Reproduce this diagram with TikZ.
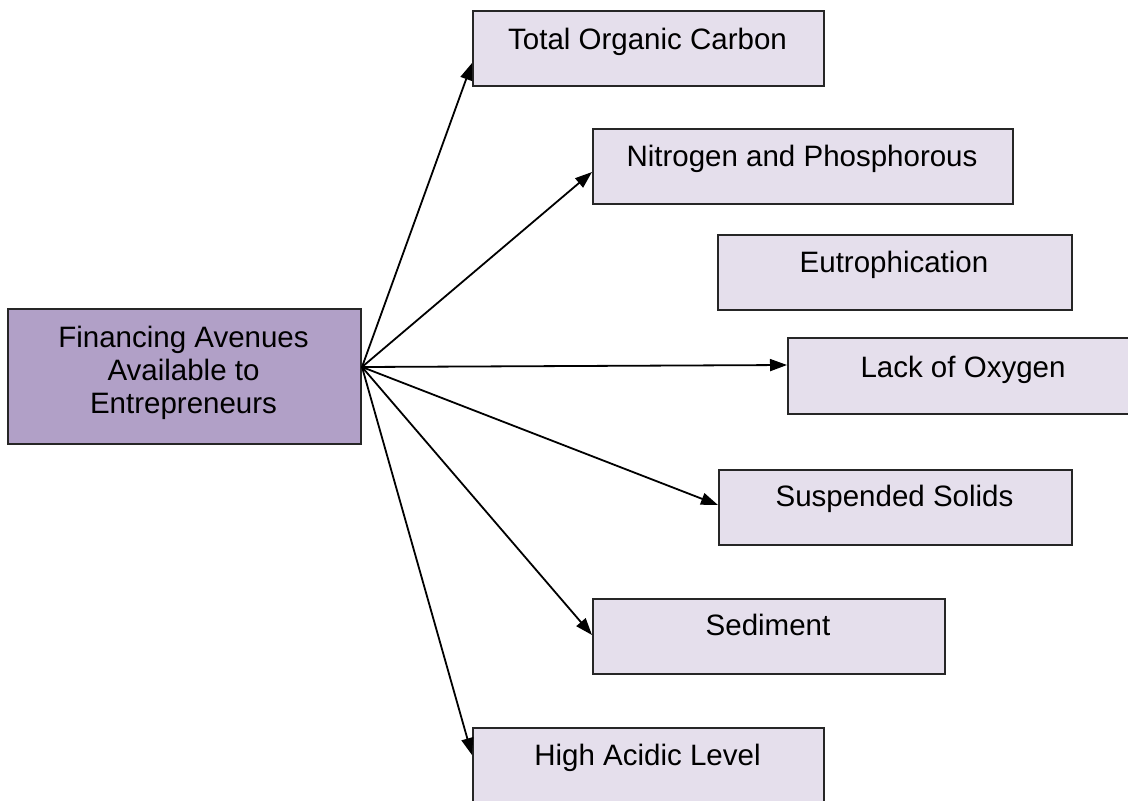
\documentclass[tikz,border=0pt]{standalone}
\usepackage{fontspec}
\setmainfont{Liberation Sans}
\usetikzlibrary{arrows.meta}
\definecolor{mainfill}{HTML}{B1A0C7}
\definecolor{boxfill}{HTML}{E5DFEC}
\tikzset{
  box/.style={draw=black!85, line width=1.8pt, fill=boxfill, rectangle, inner sep=0pt, anchor=north west},
  mainbox/.style={box, fill=mainfill},
  lbl/.style={anchor=base, inner sep=0pt, font=\fontsize{29.5}{33}\selectfont, align=center},
  conn/.style={line width=1.8pt, -{Triangle[length=17pt,width=12pt]}}
}
\begin{document}
\begin{tikzpicture}[x=1pt,y=-1pt]
\useasboundingbox (0,0) rectangle (1128,801);
\clip (0,0) rectangle (1128,801);
\fill[white] (0,0) rectangle (1128,801);
% main box
\node[mainbox, minimum width=353pt, minimum height=135pt] (m) at (7,308) {};
\node[lbl] (mt) at (183.5,413) {Financing Avenues\\Available to\\Entrepreneurs};
% boxes
\node[box, minimum width=351pt, minimum height=75pt] (b1) at (472,10) {};
\node[lbl] (t1) at (647.5,49) {Total Organic Carbon};
\node[box, minimum width=420pt, minimum height=75pt] (b2) at (592,128) {};
\node[lbl] (t2) at (802,166) {Nitrogen and Phosphorous};
\node[box, minimum width=354pt, minimum height=75pt] (b3) at (717,234) {};
\node[lbl] (t3) at (894,272) {Eutrophication};
\node[box, minimum width=352pt, minimum height=76pt] (b4) at (787,337) {};
\node[lbl] (t4) at (963,377) {Lack of Oxygen};
\node[box, minimum width=353pt, minimum height=75pt] (b5) at (718,469) {};
\node[lbl] (t5) at (894.5,506) {Suspended Solids};
\node[box, minimum width=352pt, minimum height=75pt] (b6) at (592,598) {};
\node[lbl] (t6) at (768,635) {Sediment};
\node[box, minimum width=351pt, minimum height=100pt] (b7) at (472,727) {};
\node[lbl] (t7) at (647.5,765) {High Acidic Level};
% connectors
\coordinate (src) at (362,367);
\coordinate (e1) at (472,63);
\coordinate (e2) at (592,172);
\coordinate (e4) at (787,365);
\coordinate (e5) at (718,505);
\coordinate (e6) at (592,635);
\coordinate (e7) at (472,755);
\draw[conn] (src) -- (e1);
\draw[conn] (src) -- (e2);
\draw[conn] (src) -- (e4);
\draw[conn] (src) -- (e5);
\draw[conn] (src) -- (e6);
\draw[conn] (src) -- (e7);
\end{tikzpicture}
\end{document}
